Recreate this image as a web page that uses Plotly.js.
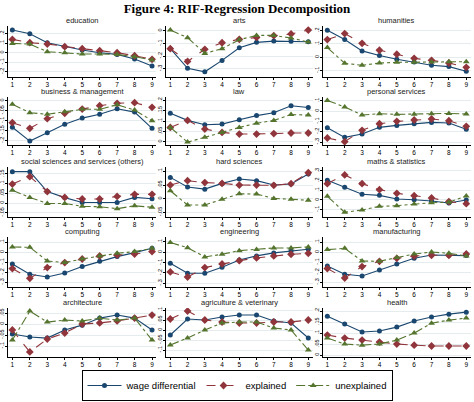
<!DOCTYPE html>
<html>
<head>
<meta charset="utf-8">
<script src="https://cdn.plot.ly/plotly-3.0.1.min.js"></script>
<style>html,body{margin:0;padding:0;background:#fff;}#chart{width:474px;height:402px;}</style>
</head>
<body>
<div id="chart"></div>
<script>
const panels = ["education","arts","humanities","business & management","law","personal services",
  "social sciences and services (others)","hard sciences","maths & statistics","computing","engineering",
  "manufacturing","architecture","agriculture & veterinary","health"];
const quantiles = [1,2,3,4,5,6,7,8,9];

const wageDifferential = [
  [.239,.200,.105,.063,.028,.000,-.018,-.067,-.140],
  [-.142,-.297,-.324,-.234,-.134,-.092,-.082,-.084,-.087],
  [.203,.133,.048,.013,-.015,-.035,-.060,-.070,-.105],
  [-.133,-.202,-.160,-.118,-.087,-.068,-.040,-.057,-.138],
  [.137,.103,.082,.085,.106,.126,.140,.174,.165],
  [-.161,-.255,-.223,-.158,-.139,-.123,-.110,-.116,-.177],
  [.162,.162,.059,.028,.003,.003,.003,.029,.022],
  [.078,.043,.035,.056,.072,.066,.050,.054,.090],
  [.203,.131,.059,.048,.010,.003,-.010,-.031,.000],
  [-.117,-.220,-.247,-.207,-.143,-.090,-.043,-.003,.040],
  [-.106,-.203,-.203,-.145,-.074,-.035,-.006,.013,.029],
  [-.137,-.220,-.237,-.177,-.117,-.060,-.027,-.030,-.033],
  [-.045,-.059,-.064,-.027,-.005,.027,.041,.027,-.027],
  [-.025,.055,.050,.065,.075,.075,.045,.035,-.040],
  [.177,.141,.105,.109,.127,.155,.173,.186,.195]
];
const explained = [
  [.140,.105,.091,.063,.042,.021,.000,-.032,-.070],
  [-.142,-.242,-.147,-.095,-.068,-.053,-.039,-.026,.005],
  [.133,.178,.105,.053,.023,-.008,-.023,-.043,-.075],
  [-.110,-.138,-.090,-.063,-.042,-.025,-.013,-.010,-.033],
  [.069,.103,.061,.045,.037,.037,.039,.042,.042],
  [-.261,-.297,-.187,-.123,-.100,-.087,-.077,-.094,-.148],
  [.098,.136,.059,.029,.021,.021,.034,.045,.045],
  [.050,.066,.059,.056,.050,.050,.049,.055,.095],
  [.169,.259,.169,.107,.069,.045,.021,-.017,-.038],
  [-.163,-.260,-.153,-.103,-.067,-.037,-.027,-.017,.007],
  [-.190,-.239,-.148,-.113,-.081,-.055,-.035,-.019,-.010],
  [-.163,-.257,-.143,-.090,-.060,-.037,-.030,-.030,-.017],
  [-.027,-.127,-.068,-.041,.000,.005,.014,.027,.041],
  [.055,.095,.050,.040,.035,.035,.040,.040,.050],
  [.091,.077,.068,.059,.050,.045,.041,.041,.041]
];
const unexplained = [
  [.098,.091,.010,.000,-.014,-.014,-.018,-.042,-.077],
  [.005,-.055,-.179,-.142,-.071,-.037,-.037,-.058,-.089],
  [.073,-.045,-.060,-.043,-.038,-.038,-.035,-.033,-.033],
  [-.018,-.060,-.068,-.055,-.043,-.043,-.020,-.047,-.100],
  [.069,-.002,.021,.045,.069,.089,.103,.131,.129],
  [.103,.039,-.039,-.026,-.032,-.032,-.026,-.023,-.029],
  [.066,.029,-.002,-.002,-.017,-.019,-.029,-.014,-.022],
  [.029,-.023,-.023,-.002,.018,.017,.001,-.002,-.006],
  [.038,-.128,-.103,-.066,-.059,-.041,-.028,-.024,.041],
  [.053,.050,-.087,-.103,-.067,-.037,-.010,.007,.040],
  [.094,.045,-.045,-.019,.016,.026,.042,.042,.052],
  [.027,.040,-.087,-.090,-.053,-.017,.003,-.010,-.037],
  [-.073,.059,.009,.018,.014,.027,.018,.027,-.073],
  [-.075,-.040,.000,.035,.040,.040,.010,.000,-.100],
  [.077,.050,.045,.050,.068,.100,.145,.159,.168]
];
const yTickValues = [
  [-.2,-.1,0,.1,.2],[-.3,-.2,-.1,0],[-.1,0,.1,.2],
  [-.2,-.15,-.1,-.05,0],[0,.05,.1,.15,.2],[-.3,-.2,-.1,0,.1],
  [-.05,0,.05,.1,.15],[-.05,0,.05,.1],[-.1,0,.1,.2,.3],
  [-.3,-.2,-.1,0,.1],[-.3,-.2,-.1,0,.1],[-.3,-.2,-.1,0,.1],
  [-.1,-.05,0,.05],[-.1,-.05,0,.05,.1],[0,.05,.1,.15,.2]
];
const seriesNames = ["wage differential","explained","unexplained"];

// ---- layout / styling (not data) ----
const yRanges = [
  [-.256,.281],[-.365,.037],[-.148,.235],
  [-.2215,.0185],[-.016,.216],[-.329,.136],
  [-.072,.186],[-.067,.116],[-.176,.341],
  [-.347,.153],[-.336,.148],[-.347,.153],
  [-.15,.073],[-.135,.11],[-.009,.214]
];
const W = 474, H = 402;
const colPx = [[8,156.4],[166,312.6],[323,470.6]];
const rowPx = [[26,77],[97,145],[167,217],[237,287],[308,357]];
const titlePx = [20,91,161,231,302];
const styles = [
  {color:"#1a476f", dash:"solid", symbol:"circle", size:5},
  {color:"#90353b", dash:"dash", symbol:"diamond", size:6},
  {color:"#55752f", dash:"dashdot", symbol:"triangle-up", size:6}
];
function fmt(v){
  if (v === 0) return "0";
  let s = String(+v.toFixed(3));
  return s.replace(/^(-?)0\./, "$1.");
}
const traces = [];
const layout = {
  width: W, height: H,
  margin: {l:0, r:0, t:0, b:0},
  paper_bgcolor: "#fff", plot_bgcolor: "#fff",
  font: {family: "Liberation Sans, Arial, sans-serif", color: "#000"},
  showlegend: true,
  title: {text: "<b>Figure 4: RIF-Regression Decomposition</b>",
    font: {family: "Liberation Serif, Times New Roman, serif", size: 13, color: "#000"},
    x: 0.5, xanchor: "center", y: 1 - 8/H, yanchor: "middle"},
  legend: {orientation: "h", x: 0.5, xanchor: "center", y: 1 - 370/H, yanchor: "top",
    bordercolor: "#000", borderwidth: 1, font: {size: 9.5}, itemwidth: 34,
    tracegroupgap: 0, bgcolor: "#fff"},
  annotations: []
};
const series = [wageDifferential, explained, unexplained];
panels.forEach((name, i) => {
  const r = Math.floor(i/3), c = i % 3;
  const n = i + 1;
  const xa = "x" + (n === 1 ? "" : n), ya = "y" + (n === 1 ? "" : n);
  series.forEach((arr, s) => {
    traces.push({
      x: quantiles, y: arr[i], xaxis: xa, yaxis: ya, type: "scatter", mode: "lines+markers",
      name: seriesNames[s], showlegend: i === 0,
      line: {color: styles[s].color, dash: styles[s].dash, width: 1.1},
      marker: {color: styles[s].color, symbol: styles[s].symbol, size: styles[s].size}
    });
  });
  const xk = "xaxis" + (n === 1 ? "" : n), yk = "yaxis" + (n === 1 ? "" : n);
  layout[xk] = {
    domain: [colPx[c][0]/W, colPx[c][1]/W], range: [0.75, 9.25], anchor: ya,
    tickvals: quantiles, ticktext: quantiles.map(String), ticks: "outside", ticklen: 2, tickwidth: 1,
    tickcolor: "#000", showline: true, linecolor: "#000", linewidth: 1, showgrid: false,
    zeroline: false, tickfont: {size: 6.5}, ticklabelstandoff: -1, fixedrange: true
  };
  layout[yk] = {
    domain: [1 - rowPx[r][1]/H, 1 - rowPx[r][0]/H], range: yRanges[i], anchor: xa,
    tickvals: yTickValues[i], ticktext: yTickValues[i].map(fmt), tickangle: -90,
    ticks: "outside", ticklen: 2, tickwidth: 1, tickcolor: "#000",
    showline: true, linecolor: "#000", linewidth: 1, showgrid: true, gridcolor: "#e4ecee",
    gridwidth: 1, zeroline: false, tickfont: {size: 5.5}, ticklabelstandoff: -1, fixedrange: true
  };
  layout.annotations.push({
    text: name, xref: "paper", yref: "paper", showarrow: false,
    x: (colPx[c][0] + colPx[c][1]) / 2 / W, y: 1 - titlePx[r]/H,
    xanchor: "center", yanchor: "middle", font: {size: 7.5, color: "#222"}
  });
});
Plotly.newPlot("chart", traces, layout, {displayModeBar: false, staticPlot: true});
</script>
</body>
</html>
